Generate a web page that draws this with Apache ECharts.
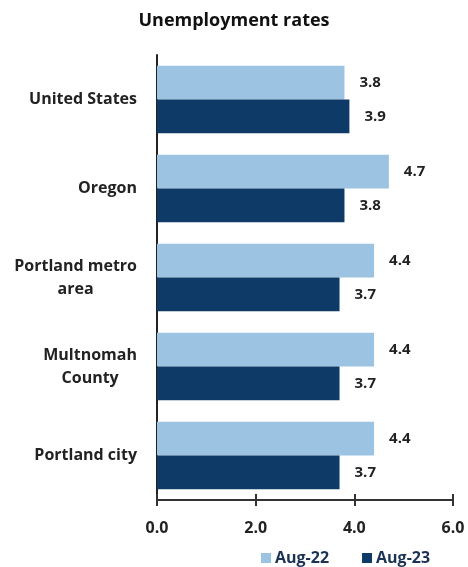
<!DOCTYPE html>
<html><head><meta charset="utf-8">
<script src="https://cdn.jsdelivr.net/npm/echarts@6/dist/echarts.min.js"></script>
<style>html,body{margin:0;padding:0;background:#fff}#c{width:468px;height:567px}</style>
</head><body><div id="c"></div>
<script>
const categories = ['United States', 'Oregon', 'Portland metro\narea', 'Multnomah\nCounty', 'Portland city'];
const seriesNames = ['Aug-22', 'Aug-23'];
const aug22 = [3.8, 4.7, 4.4, 4.4, 4.4];
const aug23 = [3.9, 3.8, 3.7, 3.7, 3.7];
const xTicks = [0, 2, 4, 6];

const FONT = 'Open Sans';
const chart = echarts.init(document.getElementById('c'));
const lbl = {show: true, position: 'right', distance: 15, formatter: p => p.value.toFixed(1),
  fontFamily: FONT, fontWeight: 'bold', fontSize: 15, color: '#222'};
chart.setOption({
  animation: false,
  title: {text: 'Unemployment rates', left: 'center', top: 7,
    textStyle: {fontFamily: FONT, fontWeight: 'bold', fontSize: 18, color: '#111'}},
  legend: {data: seriesNames, left: 256, top: 545, icon: 'rect', itemWidth: 10, itemHeight: 10, itemGap: 33,
    textStyle: {fontFamily: FONT, fontWeight: 'bold', fontSize: 16, color: '#1c3354', padding: [0,0,0,-1]}},
  grid: {left: 157, right: 15, top: 55, bottom: 67},
  xAxis: [{type: 'value', position: 'bottom', min: xTicks[0], max: xTicks[xTicks.length-1], interval: 2,
    axisLine: {show: true, lineStyle: {color: '#333', width: 2}},
    axisTick: {show: true, length: 6, lineStyle: {color: '#333', width: 2}},
    splitLine: {show: false},
    axisLabel: {formatter: v => v.toFixed(1), margin: 20, fontFamily: FONT, fontWeight: 'bold', fontSize: 16, color: '#222'}},
   {type: 'value', position: 'bottom', min: xTicks[0], max: xTicks[xTicks.length-1], interval: 2,
    axisLine: {show: false}, axisTick: {show: true, inside: true, length: 6, lineStyle: {color: '#333', width: 2}},
    splitLine: {show: false}, axisLabel: {show: false}}],
  yAxis: {type: 'category', data: categories, inverse: true,
    axisLine: {show: true, lineStyle: {color: '#222', width: 2}},
    axisTick: {show: false},
    axisLabel: {align: 'right', margin: 20,
      formatter: v => v.split('\n').map(s => '{c|' + s + '}').join('\n'),
      rich: {c: {align: 'center', lineHeight: 23, fontFamily: FONT, fontWeight: 'bold', fontSize: 16, color: '#222'}},
      lineHeight: 23, fontFamily: FONT, fontWeight: 'bold', fontSize: 16, color: '#222'}},
  series: [
    {name: seriesNames[0], type: 'bar', data: aug22, barGap: '0%', barCategoryGap: '24%',
      itemStyle: {color: '#9cc3e1'}, label: lbl},
    {name: seriesNames[1], type: 'bar', data: aug23, barGap: '0%', barCategoryGap: '24%',
      itemStyle: {color: '#0d3a66'}, label: lbl}
  ]
});
</script></body></html>
